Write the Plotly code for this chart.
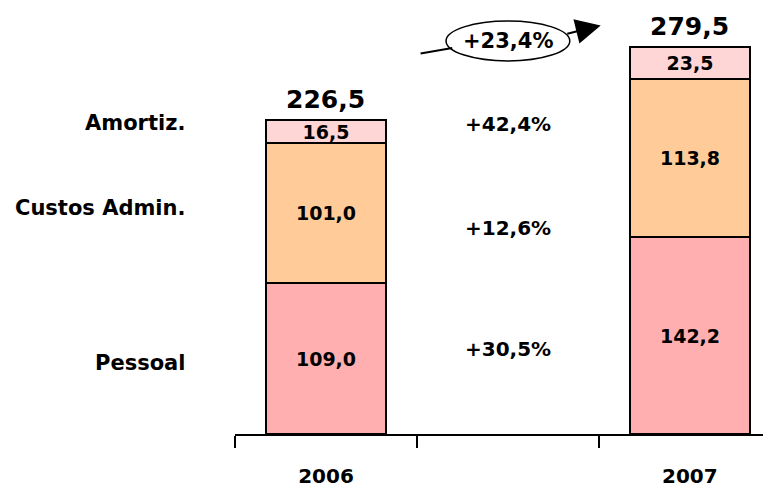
import plotly.graph_objects as go

years = ["2006", "2007"]
x_pos = [0, 2]
pessoal = [109.0, 142.2]
custos = [101.0, 113.8]
amortiz = [16.5, 23.5]
totals = [226.5, 279.5]
series_names = ["Pessoal", "Custos Admin.", "Amortiz."]
growth = ["+30,5%", "+12,6%", "+42,4%"]
growth_total = "+23,4%"

def fmt(v):
    return f"{v:.1f}".replace(".", ",")

FONT = "DejaVu Sans"
colors = ["#FFAFAF", "#FFCC99", "#FFD6D6"]

fig = go.Figure()
for name, vals, col in zip(series_names, [pessoal, custos, amortiz], colors):
    fig.add_trace(go.Bar(
        x=x_pos, y=vals, name=name, width=0.66,
        marker=dict(color=col, line=dict(color="black", width=2)),
        text=[fmt(v) for v in vals], textposition="inside",
        insidetextanchor="middle", constraintext="none",
        textfont=dict(family=FONT, size=19, color="black", weight="bold"),
        hoverinfo="skip", showlegend=False,
    ))

# totals above bars
for xp, t in zip(x_pos, totals):
    fig.add_annotation(x=xp, y=t, text=fmt(t), showarrow=False,
                       yanchor="bottom", yshift=4,
                       font=dict(family=FONT, size=25, color="black", weight="bold"))

# left series labels (y positions in data units)
label_y = [51.3, 163.2, 224.5]
for name, ly in zip(series_names, label_y):
    fig.add_annotation(x=-0.5, y=ly, text=name, showarrow=False,
                       xanchor="right", xshift=-48,
                       font=dict(family=FONT, size=21, color="black", weight="bold"))

# growth labels between the bars
growth_y = [61.3, 149.0, 223.7]
for g, gy in zip(growth, growth_y):
    fig.add_annotation(x=1, y=gy, text=g, showarrow=False,
                       font=dict(family=FONT, size=20, color="black", weight="bold"))

# ellipse with total growth
fig.add_shape(type="circle", xref="x", yref="y", x0=0.66, x1=1.34,
              y0=269.4, y1=298.2, line=dict(color="black", width=1.5),
              fillcolor="white", layer="above")
fig.add_annotation(x=1, y=283.8, text=growth_total, showarrow=False,
                   font=dict(family=FONT, size=21, color="black", weight="bold"))
fig.add_shape(type="line", xref="x", yref="y", x0=0.52, y0=274.8,
              x1=0.694, y1=278.7, line=dict(color="black", width=2))
fig.add_annotation(x=1.51, y=295.0, ax=1.318, ay=288.8, axref="x", ayref="y",
                   xref="x", yref="y", text="", showarrow=True,
                   arrowhead=2, arrowsize=2.5, arrowwidth=2, arrowcolor="black",
                   standoff=0, startstandoff=0)

fig.update_layout(
    width=771, height=500,
    margin=dict(l=227, r=0, t=0, b=74),
    paper_bgcolor="white", plot_bgcolor="white",
    barmode="stack", bargap=0,
    xaxis=dict(range=[-0.5, 2.49], tickvals=x_pos, ticktext=years,
               ticks="", showgrid=False, zeroline=False,
               showline=True, linecolor="black", linewidth=2,
               tickfont=dict(family=FONT, size=20, color="black", weight="bold"),
               ticklabelstandoff=23,
               minor=dict(tickvals=[-0.5, 0.5, 1.5], ticks="outside",
                          ticklen=12, tickwidth=2, tickcolor="black",
                          showgrid=False)),
    yaxis=dict(range=[0, 307.6], visible=False, showgrid=False,
               zeroline=False),
)

fig.write_html("out.html")
